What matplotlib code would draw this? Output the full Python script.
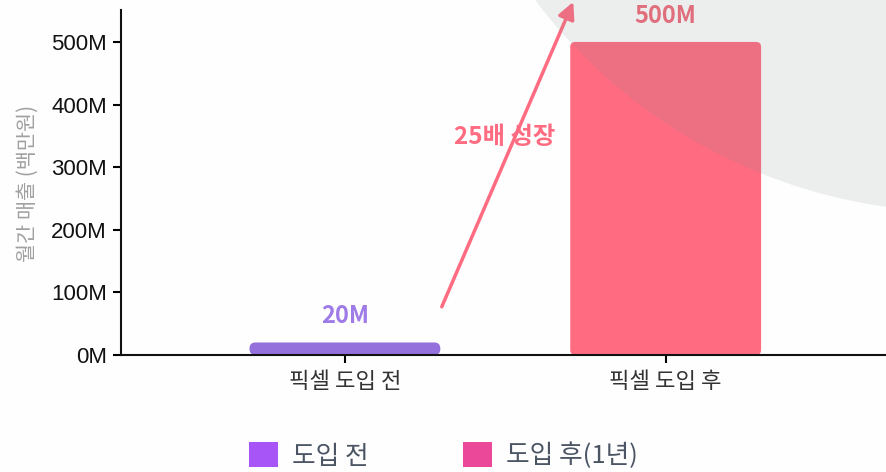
import matplotlib
matplotlib.use("Agg")
import matplotlib.pyplot as plt
from matplotlib.patches import FancyBboxPatch, Circle, Patch

plt.rcParams['font.family'] = ['Liberation Sans', 'Noto Sans CJK KR', 'DejaVu Sans']

categories = ['픽셀 도입 전', '픽셀 도입 후']
values = [20, 500]
value_labels = ['20M', '500M']
legend_labels = ['도입 전', '도입 후(1년)']
yticks = [0, 100, 200, 300, 400, 500]
ytick_labels = ['0M', '100M', '200M', '300M', '400M', '500M']
growth_label = '25배 성장'
ylabel = '월간 매출 (백만원)'

bar_colors = ['#9370DB', '#FF6B81']
label_colors = ['#9E7BE6', '#F06A7A']
legend_colors = ['#A855F7', '#EC4899']

W, H, DPI = 887, 472, 100
fig = plt.figure(figsize=(W / DPI, H / DPI), dpi=DPI)
fig.patch.set_facecolor('#FEFEFE')
ax = fig.add_axes([121 / W, (H - 355) / H, 1 - 121 / W, (355 - 10) / H])
ax.set_facecolor('none')

xlim = (-0.698, 1.69)
ylim = (0, 551)
ax.set_xlim(*xlim)
ax.set_ylim(*ylim)

width = 0.595
bars = ax.bar(range(len(values)), values, width=width, color='none')
ax_w_px = W - 121
ax_h_px = 355 - 10
x_per_px = (xlim[1] - xlim[0]) / ax_w_px
y_per_px = (ylim[1] - ylim[0]) / ax_h_px
aspect = y_per_px / x_per_px
radii_px = [6, 5]
for b, c, r in zip(bars, bar_colors, radii_px):
    x0, y0 = b.get_x(), b.get_y()
    w, h = b.get_width(), b.get_height()
    p = FancyBboxPatch((x0, y0), w, h,
                       boxstyle=f"round,pad=0,rounding_size={r * x_per_px}",
                       mutation_aspect=aspect, facecolor=c, edgecolor='none', zorder=2)
    ax.add_patch(p)

for i, (v, lab, c) in enumerate(zip(values, value_labels, label_colors)):
    ax.annotate(lab, xy=(i, v), xytext=(0, 19), textcoords='offset points',
                ha='center', va='center', fontsize=17, fontweight='bold', color=c,
                family=['Noto Sans CJK KR'], annotation_clip=False, zorder=5)

# growth arrow
ax.annotate('', xy=(0.712, 564), xytext=(0.302, 77),
            arrowprops=dict(arrowstyle='-|>,head_length=1.0,head_width=0.5',
                            color='#FF6B81', lw=2.5, shrinkA=0, shrinkB=0),
            annotation_clip=False, zorder=4)
ax.text(0.498, 348, growth_label, ha='center', va='center', fontsize=17.5,
        fontweight='bold', color='#FF6B81', family=['Noto Sans CJK KR'], zorder=5)

ax.set_xticks(range(len(categories)))
ax.set_xticklabels(categories, fontsize=16, color='#333333', family=['Noto Sans CJK KR'])
ax.set_yticks(yticks)
ax.set_yticklabels(ytick_labels, fontsize=16, color='#111111')
ax.tick_params(axis='y', length=6, width=1.5, pad=4)
ax.tick_params(axis='x', length=6, width=1.5, pad=5)
for s in ['top', 'right']:
    ax.spines[s].set_visible(False)
for s in ['left', 'bottom']:
    ax.spines[s].set_linewidth(1.5)
    ax.spines[s].set_color('#111111')

fig.text(28 / W, 1 - 183 / H, ylabel, rotation=90, ha='center', va='center',
         fontsize=15, color='#A0A0A0', family=['Noto Sans CJK KR'])

handles = [Patch(facecolor=c, edgecolor='none') for c in legend_colors]
fig.legend(handles, legend_labels, loc='center', bbox_to_anchor=(0.5, 1 - 456 / H),
           ncol=2, frameon=False, handlelength=1.1, handleheight=1.1,
           columnspacing=3.7, handletextpad=0.55,
           labelcolor='#4B5563', prop={'family': ['Noto Sans CJK KR'], 'size': 18.5})

# decorative circle, top right
circ = Circle((960 / DPI, (H + 320) / DPI), 532 / DPI, transform=fig.dpi_scale_trans,
              facecolor=(0.51, 0.55, 0.55), alpha=0.14, edgecolor='none', zorder=10)
fig.add_artist(circ)

fig.savefig('out.png', dpi=DPI)
